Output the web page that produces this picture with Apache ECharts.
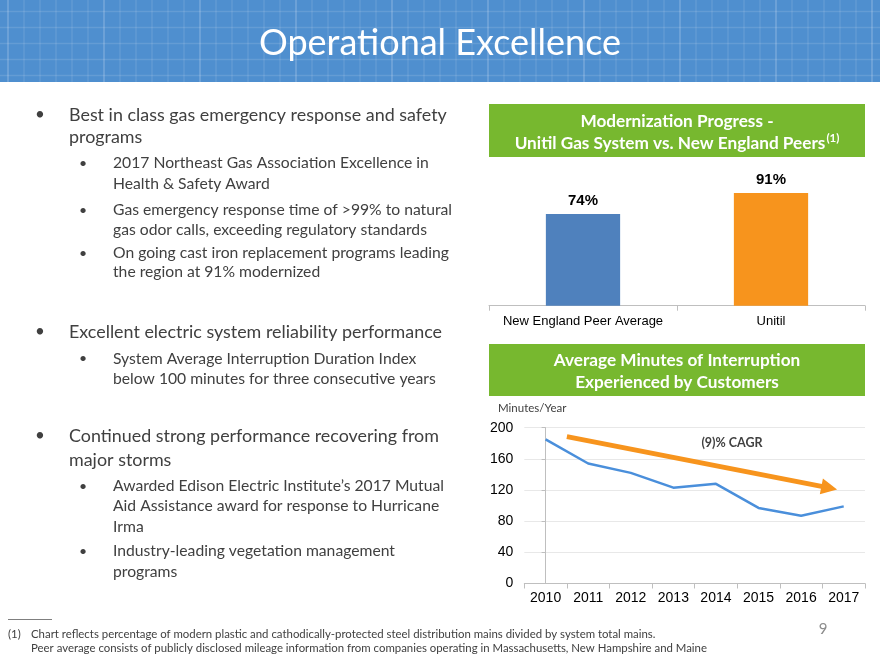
<!DOCTYPE html>
<html><head><meta charset="utf-8">
<script src="https://cdn.jsdelivr.net/npm/echarts@6/dist/echarts.min.js"></script>
<style>html,body{margin:0;padding:0;background:#fff}#c{width:880px;height:660px}</style>
</head><body><div id="c"></div>
<script>
// ---------- data ----------
const barCategories = ['New England Peer Average', 'Unitil'];
const barValues = [74, 91];
const barColors = ['#4f81bd', '#f7941d'];

const years = ['2010', '2011', '2012', '2013', '2014', '2015', '2016', '2017'];
const minutes = [185, 154, 142, 123, 128, 97, 87, 99];
const trendStart = [0.5, 188.5];   // [year index, minutes]
const trendEnd = [6.66, 122.7];
const trendLabel = '(9)% CAGR';

const title = 'Operational Excellence';
const box1Lines = ['Modernization Progress -', 'Unitil Gas System vs. New England Peers'];
const box1Sup = '(1)';
const box2Lines = ['Average Minutes of Interruption', 'Experienced by Customers'];
const unitLabel = 'Minutes/Year';

const bullet1 = ['Best in class gas emergency response and safety', 'programs'];
const bullet1Subs = [
  ['2017 Northeast Gas Association Excellence in', 'Health & Safety Award'],
  ['Gas emergency response time of >99% to natural', 'gas odor calls, exceeding regulatory standards'],
  ['On going cast iron replacement programs leading', 'the region at 91% modernized']
];
const bullet2 = ['Excellent electric system reliability performance'];
const bullet2Subs = [
  ['System Average Interruption Duration Index', 'below 100 minutes for three consecutive years']
];
const bullet3 = ['Continued strong performance recovering from', 'major storms'];
const bullet3Subs = [
  ['Awarded Edison Electric Institute\u2019s 2017 Mutual', 'Aid Assistance award for response to Hurricane', 'Irma'],
  ['Industry-leading vegetation management', 'programs']
];
const footnoteMark = '(1)';
const footnoteLines = [
  'Chart reflects percentage of modern plastic and cathodically-protected steel distribution mains divided by system total mains.',
  'Peer average consists of publicly disclosed mileage information from companies operating in Massachusetts, New Hampshire and Maine'
];
const pageNumber = '9';

// ---------- layout ----------
const FONT = 'Lato';
const TXT = '#404040';
const GREEN = '#77b82f';
const g = [];

// header
g.push({type:'rect', shape:{x:0,y:0,width:880,height:82}, style:{fill:'#4f8fcf'}, z:1});
for (let i = 0; i * 16 + 8 < 880; i++) {
  const x = i * 16 + 8;
  g.push({type:'line', shape:{x1:x,y1:0,x2:x,y2:82}, style:{stroke: (i % 6 === 0 ? 'rgba(255,255,255,0.22)' : 'rgba(255,255,255,0.10)'), lineWidth:1.5}, z:2});
}
for (let j = 0; j * 16 + 11.5 < 82; j++) {
  const y = j * 16 + 11.5;
  g.push({type:'line', shape:{x1:0,y1:y,x2:880,y2:y}, style:{stroke:'rgba(255,255,255,0.12)', lineWidth:1.5}, z:2});
}
g.push({type:'text', x:440, y:43, style:{text:title, fill:'#fff', font:'36px ' + FONT, textAlign:'center', textVerticalAlign:'middle'}, z:3});

// green boxes
function box(y, h, lines, ys, sup) {
  g.push({type:'rect', shape:{x:489,y:y,width:376,height:h}, style:{fill:GREEN}, z:1});
  lines.forEach((t, i) => {
    if (sup && i === lines.length - 1) {
      g.push({type:'text', x:677, y:ys[i], style:{
        text:'{a|' + t + '}{s|' + sup + '}', textAlign:'center', textVerticalAlign:'middle',
        rich:{a:{fill:'#fff', font:'bold 17.2px ' + FONT}, s:{fill:'#fff', font:'bold 11.5px ' + FONT, padding:[0,0,9,1]}}
      }, z:3});
    } else {
      g.push({type:'text', x:677, y:ys[i], style:{text:t, fill:'#fff', font:'bold 17.2px ' + FONT, textAlign:'center', textVerticalAlign:'middle'}, z:3});
    }
  });
}
box(104, 53, box1Lines, [121, 143], box1Sup);
box(344, 52, box2Lines, [360, 382]);

// body text
function line(x, y, t, size) {
  g.push({type:'text', x:x, y:y, style:{text:t, fill:TXT, font:size + 'px ' + FONT, textVerticalAlign:'middle'}, z:3});
}
function mainBullet(lines, ys) {
  g.push({type:'text', x:40, y:ys[0], style:{text:'\u2022', fill:TXT, font:'17px ' + FONT, textAlign:'center', textVerticalAlign:'middle'}, z:3});
  lines.forEach((t, i) => line(69, ys[i], t, 17.9));
}
function subBullet(lines, ys) {
  g.push({type:'text', x:83, y:ys[0], style:{text:'\u2022', fill:TXT, font:'14px ' + FONT, textAlign:'center', textVerticalAlign:'middle'}, z:3});
  lines.forEach((t, i) => line(113, ys[i], t, 15.7));
}
mainBullet(bullet1, [115, 137.5]);
subBullet(bullet1Subs[0], [163, 184]);
subBullet(bullet1Subs[1], [210, 230]);
subBullet(bullet1Subs[2], [253, 272]);
mainBullet(bullet2, [332]);
subBullet(bullet2Subs[0], [358.5, 379]);
mainBullet(bullet3, [436, 460]);
subBullet(bullet3Subs[0], [486, 506, 527]);
subBullet(bullet3Subs[1], [551, 572]);

// unit label, trend label
g.push({type:'text', x:498, y:408, style:{text:unitLabel, fill:TXT, font:'11.5px ' + FONT, textVerticalAlign:'middle'}, z:3});
g.push({type:'text', x:732, y:443, style:{text:trendLabel, fill:TXT, font:'bold 12.5px ' + FONT, textAlign:'center', textVerticalAlign:'middle'}, z:3});

// footnote
g.push({type:'line', shape:{x1:8,y1:619.5,x2:52,y2:619.5}, style:{stroke:'#7f7f7f', lineWidth:1}, z:3});
g.push({type:'text', x:8, y:634, style:{text:footnoteMark, fill:TXT, font:'11.4px ' + FONT, textVerticalAlign:'middle'}, z:3});
footnoteLines.forEach((t, i) => g.push({type:'text', x:31, y:634 + i * 14, style:{text:t, fill:TXT, font:'11.4px ' + FONT, textVerticalAlign:'middle'}, z:3}));
g.push({type:'text', x:823, y:629, style:{text:pageNumber, fill:'#8c8c8c', font:'15px ' + FONT, textAlign:'center', textVerticalAlign:'middle'}, z:3});

// ---------- chart ----------
const chart = echarts.init(document.getElementById('c'), null, {renderer:'canvas'});
chart.setOption({
  animation:false,
  backgroundColor:'#fff',
  graphic: g,
  grid:[
    {left:489, right:15, top:181.8, bottom:354.3},
    {left:524.3, right:15, top:427.7, bottom:76.5}
  ],
  xAxis:[
    {type:'category', gridIndex:0, data:barCategories,
     axisLine:{lineStyle:{color:'#bfbfbf', width:1}}, axisTick:{show:true, length:5, lineStyle:{color:'#bfbfbf'}},
     axisLabel:{color:'#000', fontFamily:'Arial', fontSize:13, margin:9, interval:0}},
    {type:'category', gridIndex:1, data:years,
     axisLine:{lineStyle:{color:'#bfbfbf', width:1}}, axisTick:{show:true, length:5, lineStyle:{color:'#bfbfbf'}},
     axisLabel:{color:'#000', fontFamily:'Arial', fontSize:14, margin:8, interval:0}},
    {type:'value', gridIndex:1, min:-0.5, max:7.5, show:false}
  ],
  yAxis:[
    {type:'value', gridIndex:0, min:0, max:100, show:false},
    {type:'value', gridIndex:1, min:0, max:200, interval:40,
     axisLine:{show:true, lineStyle:{color:'#bfbfbf'}}, axisTick:{show:true, length:4, lineStyle:{color:'#bfbfbf'}},
     splitLine:{lineStyle:{color:'#e8e8e8'}},
     axisLabel:{color:'#000', fontFamily:'Arial', fontSize:14, margin:11}}
  ],
  series:[
    {type:'bar', xAxisIndex:0, yAxisIndex:0, barWidth:'39.5%',
     data: barValues.map((v, i) => ({value:v, itemStyle:{color:barColors[i]}})),
     label:{show:true, position:'top', distance:6, formatter:'{c}%', color:'#000', fontFamily:'Arial', fontWeight:'bold', fontSize:15}},
    {type:'line', xAxisIndex:1, yAxisIndex:1, data:minutes, symbol:'none',
     lineStyle:{color:'#4a8fdb', width:2.5}},
    {type:'line', xAxisIndex:2, yAxisIndex:1, data:[], symbol:'none',
     markLine:{silent:true, symbol:['none','triangle'], symbolSize:16, label:{show:false},
       lineStyle:{color:'#f7941d', width:5, type:'solid'},
       itemStyle:{color:'#f7941d'},
       data:[[{coord:trendStart}, {coord:trendEnd}]]}}
  ]
});
</script>
</body></html>
